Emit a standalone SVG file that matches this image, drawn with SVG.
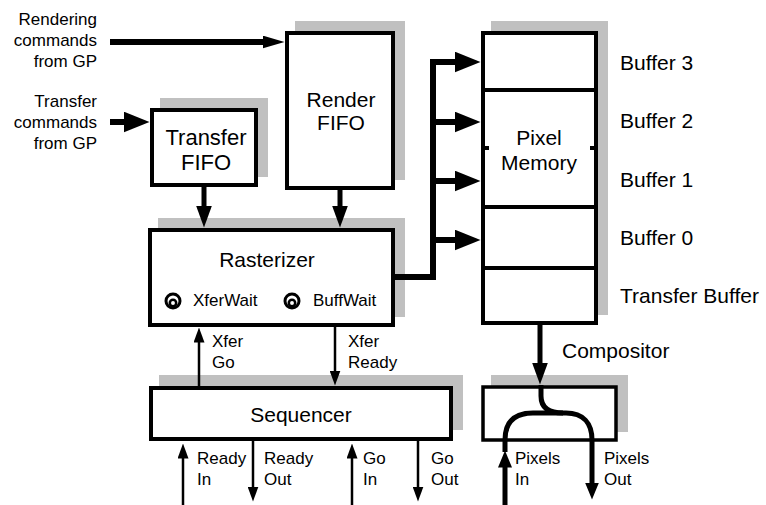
<svg xmlns="http://www.w3.org/2000/svg" width="766" height="505" viewBox="0 0 766 505">
<style>
text{font-family:"Liberation Sans",Arial,sans-serif;fill:#000}
.t21{font-size:21px}
.t17{font-size:17px}
.mid{text-anchor:middle}
.end{text-anchor:end}
.box{fill:#fff;stroke:#000;stroke-width:4}
.shadow{fill:#c0c0c0}
.div{stroke:#000;stroke-width:4;fill:none}
.ln{fill:none;stroke:#000}
.icon{fill:none;stroke:#000}
</style>
<defs>
<marker id="mBig" markerUnits="userSpaceOnUse" markerWidth="26" markerHeight="21" refX="0.5" refY="10.5" orient="auto" viewBox="0 0 26 21"><path d="M0,0 L26,10.5 L0,21 z"/></marker>
<marker id="mMed" markerUnits="userSpaceOnUse" markerWidth="22" markerHeight="16" refX="0.5" refY="8" orient="auto" viewBox="0 0 22 16"><path d="M0,0 L22,8 L0,16 z"/></marker>
<marker id="mRend" markerUnits="userSpaceOnUse" markerWidth="22" markerHeight="13" refX="0.5" refY="6.5" orient="auto" viewBox="0 0 22 13"><path d="M0,0 L22,6.5 L0,13 z"/></marker>
<marker id="mSmall" markerUnits="userSpaceOnUse" markerWidth="15" markerHeight="11" refX="0.5" refY="5.5" orient="auto" viewBox="0 0 15 11"><path d="M0,0 L15,5.5 L0,11 z"/></marker>
<marker id="mPix" markerUnits="userSpaceOnUse" markerWidth="17" markerHeight="14" refX="0.5" refY="7" orient="auto" viewBox="0 0 17 14"><path d="M0,0 L17,7 L0,14 z"/></marker>
</defs>

<g id="label-rendering-commands">
<text class="t17 end" x="97" y="25">Rendering</text>
<text class="t17 end" x="97" y="46">commands</text>
<text class="t17 end" x="97" y="67">from GP</text>
</g>
<g id="label-transfer-commands">
<text class="t17 end" x="97" y="107">Transfer</text>
<text class="t17 end" x="97" y="128">commands</text>
<text class="t17 end" x="97" y="149">from GP</text>
</g>

<g id="transfer-fifo">
<rect class="shadow" x="160" y="98" width="108" height="79"/>
<rect class="box" x="152" y="110" width="104" height="75"/>
<text class="t21 mid" x="206" y="145" style="font-size:22px">Transfer</text>
<text class="t21 mid" x="206" y="170" style="font-size:22px">FIFO</text>
</g>

<g id="render-fifo">
<rect class="shadow" x="295" y="21" width="110" height="159"/>
<rect class="box" x="287" y="33" width="106" height="155"/>
<text class="t21 mid" x="341" y="107">Render</text>
<text class="t21 mid" x="341" y="130">FIFO</text>
</g>

<g id="rasterizer">
<rect class="shadow" x="158" y="218" width="247" height="99"/>
<rect class="box" x="150" y="230" width="243" height="95"/>
<text class="t21 mid" x="267" y="267">Rasterizer</text>
<circle class="icon" cx="173" cy="301" r="7" stroke-width="3"/>
<circle class="icon" cx="173" cy="303" r="3.2" stroke-width="2.5"/>
<text class="t17" x="193" y="306">XferWait</text>
<circle class="icon" cx="292" cy="301" r="7" stroke-width="3"/>
<circle class="icon" cx="292" cy="303" r="3.2" stroke-width="2.5"/>
<text class="t17" x="313" y="306">BuffWait</text>
</g>

<g id="sequencer">
<rect class="shadow" x="159" y="375" width="304" height="55"/>
<rect class="box" x="151" y="388" width="300" height="51"/>
<text class="t21 mid" x="301" y="422">Sequencer</text>
</g>

<g id="pixel-memory">
<rect class="shadow" x="491" y="21" width="117" height="294"/>
<rect class="box" x="483" y="33" width="113" height="290"/>
<line class="div" x1="483" y1="90" x2="596" y2="90"/>
<line class="div" x1="483" y1="207" x2="596" y2="207"/>
<line class="div" x1="483" y1="268" x2="596" y2="268"/>
<line class="div" x1="483" y1="148" x2="489" y2="148"/>
<line class="div" x1="590" y1="148" x2="596" y2="148"/>
<text class="t21 mid" x="539" y="145">Pixel</text>
<text class="t21 mid" x="539" y="170">Memory</text>
</g>

<g id="buffer-labels">
<text class="t21" x="620" y="70">Buffer 3</text>
<text class="t21" x="620" y="128">Buffer 2</text>
<text class="t21" x="620" y="187">Buffer 1</text>
<text class="t21" x="620" y="245">Buffer 0</text>
<text class="t21" x="620" y="303">Transfer Buffer</text>
</g>

<g id="compositor">
<rect class="shadow" x="491" y="375" width="137" height="57"/>
<rect class="box" x="483" y="387" width="133" height="53" style="stroke-width:3.5"/>
<text class="t21" x="562" y="358">Compositor</text>
</g>

<g id="connectors">
<path class="ln" d="M110,42 H263" stroke-width="6" marker-end="url(#mRend)"/>
<path class="ln" d="M110,122 H124" stroke-width="6" marker-end="url(#mBig)"/>
<path class="ln" d="M204,187 V206" stroke-width="5" marker-end="url(#mMed)"/>
<path class="ln" d="M340,190 V206" stroke-width="5" marker-end="url(#mMed)"/>
<path class="ln" d="M395,277 H433 V59" stroke-width="6"/>
<path class="ln" d="M430,62 H455" stroke-width="6" marker-end="url(#mBig)"/>
<path class="ln" d="M430,122 H455" stroke-width="6" marker-end="url(#mBig)"/>
<path class="ln" d="M430,181 H455" stroke-width="6" marker-end="url(#mBig)"/>
<path class="ln" d="M430,240 H455" stroke-width="6" marker-end="url(#mBig)"/>
<path class="ln" d="M540,325 V363" stroke-width="5" marker-end="url(#mMed)"/>
<path class="ln" d="M199,386 V342" stroke-width="2.5" marker-end="url(#mSmall)"/>
<path class="ln" d="M335,327 V371" stroke-width="2.5" marker-end="url(#mSmall)"/>
<path class="ln" d="M183,505 V458" stroke-width="2.5" marker-end="url(#mSmall)"/>
<path class="ln" d="M253,441 V487" stroke-width="2.5" marker-end="url(#mSmall)"/>
<path class="ln" d="M352,505 V458" stroke-width="2.5" marker-end="url(#mSmall)"/>
<path class="ln" d="M418,441 V487" stroke-width="2.5" marker-end="url(#mSmall)"/>
<path class="ln" d="M505,505 V467" stroke-width="5" marker-end="url(#mPix)"/>
<path class="ln" d="M505,452 V440 C505,422 514,413 533,413 H566 C583,413 592,423 592,440 V483" stroke-width="5" marker-end="url(#mPix)"/>
<path class="ln" d="M541,385 V396 C541,407 548,413 563,413" stroke-width="5"/>
<text class="t17" x="212" y="347">Xfer</text>
<text class="t17" x="212" y="368">Go</text>
<text class="t17" x="348" y="347">Xfer</text>
<text class="t17" x="348" y="368">Ready</text>
<text class="t17" x="197" y="464">Ready</text>
<text class="t17" x="197" y="485">In</text>
<text class="t17" x="264" y="464">Ready</text>
<text class="t17" x="264" y="485">Out</text>
<text class="t17" x="363" y="464">Go</text>
<text class="t17" x="363" y="485">In</text>
<text class="t17" x="431" y="464">Go</text>
<text class="t17" x="431" y="485">Out</text>
<text class="t17" x="515" y="464">Pixels</text>
<text class="t17" x="515" y="485">In</text>
<text class="t17" x="604" y="464">Pixels</text>
<text class="t17" x="604" y="485">Out</text>
</g>
</svg>
